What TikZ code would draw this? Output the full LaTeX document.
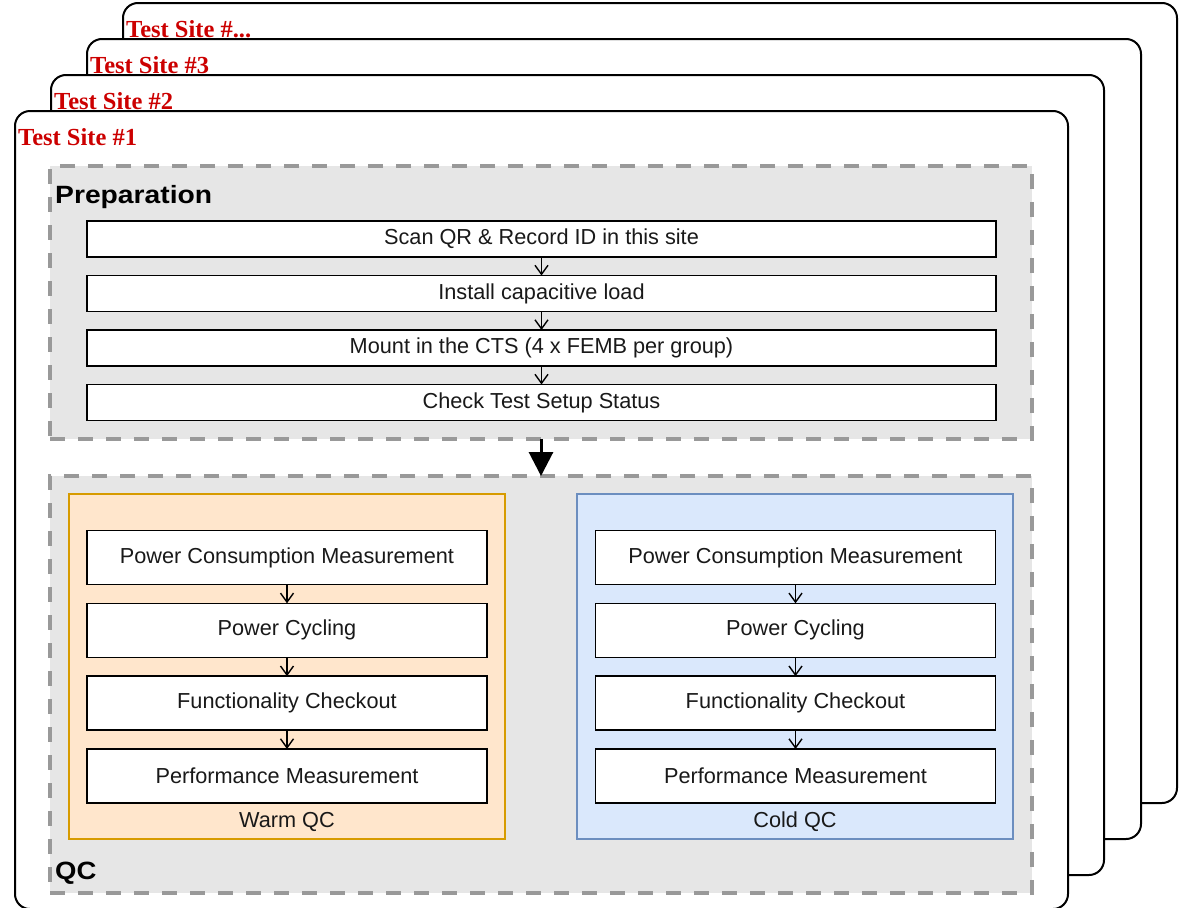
\documentclass[tikz,border=0pt]{standalone}
\usepackage{fontspec}
\setmainfont{Liberation Sans}
\newfontfamily\titlefont{Liberation Serif}
\usetikzlibrary{arrows.meta}
\definecolor{sitered}{HTML}{CC0000}
\definecolor{grpfill}{HTML}{E6E6E6}
\definecolor{grpline}{HTML}{999999}
\definecolor{warmfill}{HTML}{FFE6CC}
\definecolor{warmline}{HTML}{D79B00}
\definecolor{coldfill}{HTML}{DAE8FC}
\definecolor{coldline}{HTML}{6C8EBF}
\begin{document}
\begin{tikzpicture}[x=1pt,y=-1pt,
  sitebox/.style={draw=black, line width=2pt, fill=white, rounded corners=15pt, inner sep=0pt, outer sep=0pt},
  sitelabel/.style={anchor=base west, inner sep=0pt, text=sitered, font=\titlefont\bfseries\fontsize{24.5}{28}\selectfont},
  group/.style={draw=grpline, fill=grpfill, line width=4pt, dash pattern=on 15pt off 13pt, inner sep=0pt, outer sep=0pt},
  grouplabel/.style={anchor=base west, inner sep=0pt, font=\bfseries\fontsize{25}{30}\selectfont},
  qcpanel/.style={line width=1.5pt, inner sep=0pt, outer sep=0pt},
  panellabel/.style={inner sep=0pt, font=\fontsize{21.7}{26}\selectfont, text=black!90},
  stepbox/.style={draw=black, line width=1.5pt, fill=white, inner sep=0pt, outer sep=0pt, font=\fontsize{21.7}{26}\selectfont, text=black!90},
  prepstep/.style={stepbox, minimum width=909pt, minimum height=36pt},
  qcstep/.style={stepbox, minimum width=400pt, minimum height=54pt},
  smallarrow/.style={draw=black, line width=1.4pt, -{Straight Barb[length=9pt,width=13pt,line width=1.4pt]}},
  bigarrow/.style={draw=black, line width=3pt, -{Triangle[length=24pt,width=24pt]}}
]
\useasboundingbox (0,0) rectangle (1192,908);

% stacked test sites (back to front)
\node[sitebox, minimum width=1054pt, minimum height=800pt] (s4) at (650,403) {};
\node[sitelabel] (l4) at (126,37) {Test Site \#...};
\node[sitebox, minimum width=1054pt, minimum height=800pt] (s3) at (614,439) {};
\node[sitelabel] (l3) at (90,73) {Test Site \#3};
\node[sitebox, minimum width=1053pt, minimum height=800pt] (s2) at (577.5,475) {};
\node[sitelabel] (l2) at (54,109) {Test Site \#2};
\node[sitebox, minimum width=1053pt, minimum height=798pt] (s1) at (541.5,510) {};
\node[sitelabel] (l1) at (18,145) {Test Site \#1};

% Preparation group
\node[group, minimum width=982pt, minimum height=273pt] (prep) at (541,302.5) {};
\node[grouplabel] (preplabel) at (55,203) {\scalebox{1.13}[1]{Preparation}};
\node[prepstep] (p1) at (541.5,239) {Scan QR \& Record ID in this site};
\node[prepstep] (p2) at (541.5,293.5) {Install capacitive load};
\node[prepstep] (p3) at (541.5,348) {Mount in the CTS (4 x FEMB per group)};
\node[prepstep] (p4) at (541.5,402.5) {Check Test Setup Status};
\draw[smallarrow] (p1) -- (p2);
\draw[smallarrow] (p2) -- (p3);
\draw[smallarrow] (p3) -- (p4);

% QC group
\node[group, minimum width=982pt, minimum height=417pt] (qc) at (541,684.5) {};
\node[grouplabel] (qclabel) at (55,879) {\scalebox{1.1}[1]{QC}};
\draw[bigarrow] (prep.south) -- (qc.north);

% Warm QC
\node[qcpanel, draw=warmline, fill=warmfill, minimum width=436pt, minimum height=345pt] (warm) at (287,666.5) {};
\node[panellabel] (warmlabel) at (287,822) {Warm QC};
\node[qcstep] (w1) at (287,557.5) {Power Consumption Measurement};
\node[qcstep] (w2) at (287,630.3) {Power Cycling};
\node[qcstep] (w3) at (287,703.2) {Functionality Checkout};
\node[qcstep] (w4) at (287,776) {Performance Measurement};
\draw[smallarrow] (w1) -- (w2);
\draw[smallarrow] (w2) -- (w3);
\draw[smallarrow] (w3) -- (w4);

% Cold QC
\node[qcpanel, draw=coldline, fill=coldfill, minimum width=436pt, minimum height=345pt] (cold) at (795,666.5) {};
\node[panellabel] (coldlabel) at (795,822) {Cold QC};
\node[qcstep] (c1) at (795.5,557.5) {Power Consumption Measurement};
\node[qcstep] (c2) at (795.5,630.3) {Power Cycling};
\node[qcstep] (c3) at (795.5,703.2) {Functionality Checkout};
\node[qcstep] (c4) at (795.5,776) {Performance Measurement};
\draw[smallarrow] (c1) -- (c2);
\draw[smallarrow] (c2) -- (c3);
\draw[smallarrow] (c3) -- (c4);
\end{tikzpicture}
\end{document}
